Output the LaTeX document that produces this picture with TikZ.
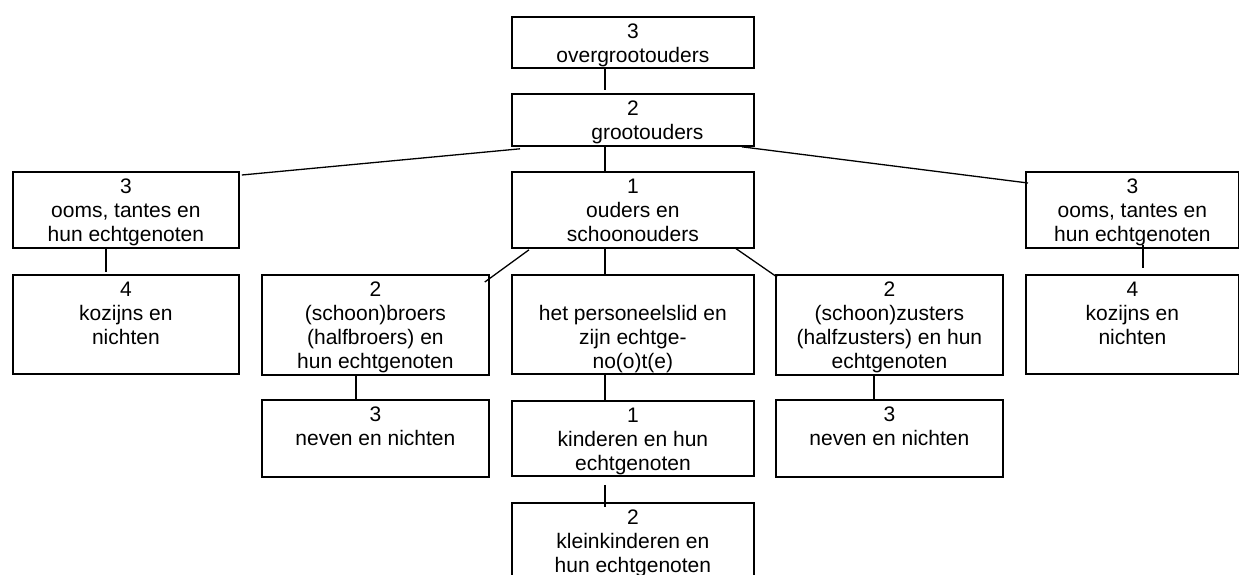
\documentclass[tikz,border=0pt]{standalone}
\usepackage{fontspec}
\setmainfont{Liberation Sans}
\usetikzlibrary{calc}
\tikzset{
  box/.style={draw, line width=1.8pt, inner sep=0pt, anchor=north west,
    font=\fontsize{21}{24}\selectfont},
  link/.style={line width=1.3pt},
}
\newcommand\bt[3]{\parbox[t][#2pt][t]{#1pt}{\centering\rule{0pt}{22pt}#3}}
\begin{document}
\begin{tikzpicture}[x=1pt,y=-1pt]
\clip (0,0) rectangle (1239,574);
% boxes
\node[box] (over)   at (511,16)  {\bt{242}{51}{3\\overgrootouders}};
\node[box] (groot)  at (511,93)  {\bt{242}{52}{2\\\hspace*{29pt}grootouders}};
\node[box] (ouders) at (511,171) {\bt{242}{76}{1\\ouders en\\schoonouders}};
\node[box] (oomsL)  at (12,171)  {\bt{226}{76}{3\\ooms, tantes en\\hun echtgenoten}};
\node[box] (oomsR)  at (1025,171){\bt{213}{76}{3\\ooms, tantes en\\hun echtgenoten}};
\node[box] (kozL)   at (12,274)  {\bt{226}{99}{4\\kozijns en\\nichten}};
\node[box] (kozR)   at (1025,274){\bt{213}{99}{4\\kozijns en\\nichten}};
\node[box] (broers) at (261,274) {\bt{227}{100}{2\\(schoon)broers\\(halfbroers) en\\hun echtgenoten}};
\node[box] (pers)   at (511,274) {\bt{242}{99}{\mbox{}\\het personeelslid en\\zijn echtge-\\no(o)t(e)}};
\node[box] (zus)    at (775,274) {\bt{227}{100}{2\\(schoon)zusters\\(halfzusters) en hun\\echtgenoten}};
\node[box] (nevL)   at (261,399) {\bt{227}{77}{3\\neven en nichten}};
\node[box] (kind)   at (511,400) {\bt{242}{75}{1\\kinderen en hun\\echtgenoten}};
\node[box] (nevR)   at (775,399) {\bt{227}{77}{3\\neven en nichten}};
\node[box] (klein)  at (511,502) {\bt{242}{100}{2\\kleinkinderen en\\hun echtgenoten}};
% connectors
\draw[link] ($(over.south west)+(94,0)$) -- ($(groot.north west)+(94,-3)$);
\draw[link] ($(groot.south west)+(94,0)$) -- ($(ouders.north west)+(94,0)$);
\draw[link] ($(ouders.south west)+(94,0)$) -- ($(pers.north west)+(94,0)$);
\draw[link] ($(pers.south west)+(94,0)$) -- ($(kind.north west)+(94,0)$);
\draw[link] ($(kind.south west)+(94,8)$) -- ($(klein.north west)+(94,5)$);
\draw[link] ($(groot.south west)+(9,2)$) -- ($(oomsL.north east)+(2,4)$);
\draw[link] ($(groot.south east)+(-13,0)$) -- ($(oomsR.north west)+(3,12)$);
\draw[link] ($(ouders.south west)+(18,1)$) -- ($(broers.north east)+(-5,8)$);
\draw[link] ($(ouders.south east)+(-20,-1)$) -- ($(zus.north west)+(2,3)$);
\draw[link] ($(oomsL.south west)+(94,-2)$) -- ($(kozL.north west)+(94,-2)$);
\draw[link] ($(oomsR.south west)+(118,-4)$) -- ($(kozR.north west)+(118,-6)$);
\draw[link] ($(broers.south west)+(95,0)$) -- ($(nevL.north west)+(95,0)$);
\draw[link] ($(zus.south west)+(99,0)$) -- ($(nevR.north west)+(99,0)$);
\end{tikzpicture}
\end{document}
